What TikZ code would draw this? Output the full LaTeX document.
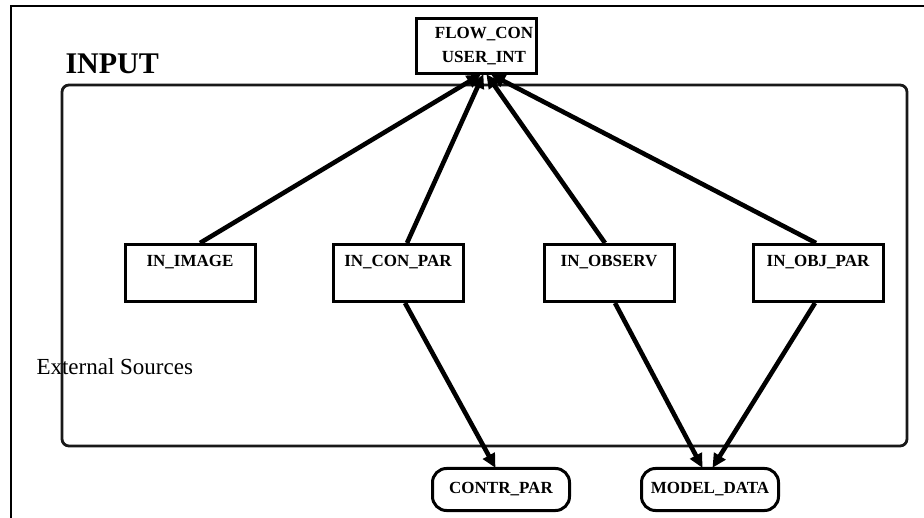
\documentclass[tikz,border=0pt]{standalone}
\usepackage{fontspec}
\setmainfont{Liberation Serif}
\usetikzlibrary{arrows.meta,calc}
\begin{document}
\begin{tikzpicture}[x=1pt,y=-1pt,
  boxlabel/.style={font=\bfseries\fontsize{17}{24}\selectfont},
  procbox/.style={boxlabel,draw,line width=3pt,inner xsep=0pt,inner ysep=0pt,
    minimum width=130pt,text height=22pt,text depth=35pt,anchor=north},
  storebox/.style={boxlabel,draw,line width=3pt,rounded corners=14pt,
    minimum width=137pt,minimum height=42pt,inner sep=0pt,anchor=north},
  flow/.style={line width=4.6pt,-{Triangle[length=14pt,width=13pt]},shorten >=-1pt}
]
\useasboundingbox (0,0) rectangle (924,518);
\fill[white] (0,0) rectangle (924,518);

% outer frame: top and left edges
\draw[line width=2.6pt] (924,6) -- (11,6) -- (11,518);

% INPUT group
\node[anchor=base west,font=\bfseries\fontsize{30}{30}\selectfont] (title) at (62,74) {INPUT};
\draw[line width=2.8pt,rounded corners=7pt,black!90] (62,85) rectangle (907,446);
\node[anchor=base west,font=\fontsize{23}{23}\selectfont] (ext) at (33,375) {External Sources};

% controller box
\node[boxlabel,draw,line width=3pt,minimum width=120pt,minimum height=55pt,
      align=center,inner sep=0pt,anchor=north] (fc) at (476,17)
      {\hspace*{16pt}FLOW\_CON\\\hspace*{16pt}USER\_INT};

% input modules
\node[procbox] (img) at (190,243) {IN\_IMAGE};
\node[procbox] (con) at (398,243) {IN\_CON\_PAR};
\node[procbox] (obs) at (609,243) {IN\_OBSERV};
\node[procbox] (obj) at (818,243) {IN\_OBJ\_PAR};

% data stores
\node[storebox] (ctr) at (501,467) {CONTR\_PAR};
\node[storebox] (mod) at (710,467) {MODEL\_DATA};

% flows to the controller
\draw[flow] ([xshift=10pt]img.north) -- ([xshift=4pt]fc.south);
\draw[flow] ([xshift=9pt]con.north) -- ([xshift=7pt]fc.south);
\draw[flow] ([xshift=-4pt]obs.north) -- ([xshift=11pt]fc.south);
\draw[flow] ([xshift=-2pt]obj.north) -- ([xshift=16pt]fc.south);

% flows to the data stores
\draw[flow] ([xshift=7pt]con.south) -- ([xshift=-6pt]ctr.north);
\draw[flow] ([xshift=6pt]obs.south) -- ([xshift=-8pt]mod.north);
\draw[flow] ([xshift=-3pt]obj.south) -- ([xshift=3pt]mod.north);
\end{tikzpicture}
\end{document}
